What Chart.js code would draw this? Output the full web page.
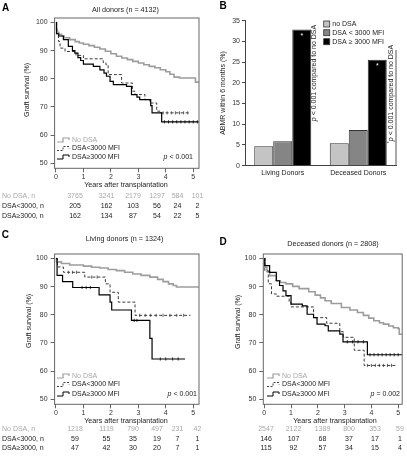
<!DOCTYPE html>
<html>
<head>
<meta charset="utf-8">
<script src="https://cdn.jsdelivr.net/npm/chart.js@4/dist/chart.umd.min.js"></script>
<style>
html, body { margin: 0; padding: 0; background: #fff; }
#wrap { position: relative; width: 407px; height: 456px; }
#wrap canvas { position: absolute; left: 0; top: 0; }
</style>
</head>
<body>
<div id="wrap">
  <canvas id="cA" width="407" height="456"></canvas>
  <canvas id="cB" width="407" height="456"></canvas>
  <canvas id="cC" width="407" height="456"></canvas>
  <canvas id="cD" width="407" height="456"></canvas>
</div>
<script>
// ---------- data ----------
const yearTicks = [0, 1, 2, 3, 4, 5];
const survTicks = [50, 60, 70, 80, 90, 100];
const seriesNames = ['No DSA', 'DSA<3000 MFI', 'DSA\u22653000 MFI'];
const riskNames = ['No DSA, n', 'DSA<3000, n', 'DSA\u22653000, n'];

// A - all donors (time in years, graft survival %)
const aNoDsaT = [0, 0.02, 0.05, 0.1, 0.2, 0.3, 0.5, 0.7, 0.85, 1.0, 1.2, 1.4, 1.6, 1.8, 2.0, 2.2, 2.4, 2.6, 2.8, 3.0, 3.2, 3.4, 3.6, 3.8, 4.0, 4.15, 4.3, 4.5, 5.08, 5.2];
const aNoDsaS = [100, 97.5, 96.5, 95.8, 95.2, 94.6, 93.9, 93.2, 92.7, 92.3, 91.8, 91.2, 90.6, 89.8, 88.9, 88.0, 87.4, 86.8, 86.2, 85.6, 85.0, 84.4, 83.9, 83.2, 82.5, 81.6, 80.6, 80.3, 78.8, 78.8];
const aLowT = [0, 0.02, 0.09, 0.15, 0.33, 0.73, 1.0, 1.72, 1.82, 1.9, 2.39, 2.79, 2.88, 3.24, 3.42, 3.67, 3.79, 4.88];
const aLowS = [100, 96, 93.3, 90.9, 89.7, 88.3, 87.1, 85.8, 85.0, 81.5, 78.5, 75.6, 74.4, 72.6, 71.4, 68.5, 67.9, 67.9];
const aHighT = [0, 0.02, 0.1, 0.27, 0.45, 0.6, 0.69, 0.8, 0.9, 1.0, 1.36, 1.6, 1.75, 1.84, 1.97, 2.09, 2.57, 2.75, 2.95, 3.05, 3.45, 3.5, 3.85, 5.2];
const aHighS = [100, 96, 95.2, 93.9, 91.5, 90.0, 89.1, 87.5, 86.5, 85.2, 84.4, 83.2, 82.0, 80.9, 79.1, 77.9, 77.3, 74.4, 73.5, 72.6, 70.5, 67.9, 64.7, 64.7];
// censoring marks
const aLowCensT = [3.9, 4.05, 4.2, 4.35, 4.5, 4.65, 4.8];
const aLowCensS = [67.9, 67.9, 67.9, 67.9, 67.9, 67.9, 67.9];
const aHighCensT = [3.95, 4.1, 4.25, 4.4, 4.55, 4.7, 4.85, 5.0, 5.15];
const aHighCensS = [64.7, 64.7, 64.7, 64.7, 64.7, 64.7, 64.7, 64.7, 64.7];
const aRiskNoDsa = [3765, 3241, 2179, 1297, 584, 101];
const aRiskLow = [205, 162, 103, 56, 24, 2];
const aRiskHigh = [162, 134, 87, 54, 22, 5];

// C - living donors
const cNoDsaT = [0, 0.02, 0.2, 0.5, 1.0, 1.3, 1.6, 1.9, 2.2, 2.5, 2.8, 3.1, 3.42, 3.7, 3.9, 4.1, 4.27, 4.39, 5.2];
const cNoDsaS = [100, 98.8, 98.2, 97.7, 97.3, 96.9, 96.6, 96.1, 95.7, 95.1, 94.5, 94.0, 93.4, 92.6, 91.8, 91.0, 90.4, 89.9, 89.9];
const cLowT = [0, 0.05, 0.27, 1.05, 1.8, 1.97, 2.27, 2.88, 4.9];
const cLowS = [100, 97, 95.1, 93.4, 91.0, 88.0, 84.5, 79.8, 79.8];
const cHighT = [0, 0.04, 0.24, 0.61, 1.57, 1.97, 2.03, 2.75, 3.42, 3.5, 4.7];
const cHighS = [100, 94.0, 91.8, 89.7, 87.1, 84.5, 81.7, 78.0, 71.6, 64.3, 64.3];
const cLowCensT = [0.45, 0.6, 0.75, 1.3, 1.5, 3.05, 3.25, 3.45, 3.65, 3.9, 4.15, 4.4, 4.65];
const cLowCensS = [95.1, 95.1, 95.1, 93.4, 93.4, 79.8, 79.8, 79.8, 79.8, 79.8, 79.8, 79.8, 79.8];
const cHighCensT = [0.95, 1.1, 1.25, 2.85, 2.95, 3.8, 4.0, 4.25, 4.45];
const cHighCensS = [89.7, 89.7, 89.7, 78.0, 78.0, 64.3, 64.3, 64.3, 64.3];
const cRiskNoDsa = [1218, 1119, 790, 497, 231, 42];
const cRiskLow = [59, 55, 35, 19, 7, 1];
const cRiskHigh = [47, 42, 30, 20, 7, 1];

// D - deceased donors
const dNoDsaT = [0, 0.02, 0.1, 0.2, 0.45, 0.6, 0.81, 1.06, 1.3, 1.66, 1.9, 2.1, 2.27, 2.5, 2.88, 3.2, 3.48, 3.7, 3.9, 4.09, 4.3, 4.45, 4.65, 4.82, 5.0, 5.04, 5.15];
const dNoDsaS = [100, 96.9, 95.3, 93.9, 92.1, 91.5, 91.0, 90.1, 89.3, 88.2, 87.0, 86.0, 85.0, 84.0, 82.6, 81.7, 80.8, 79.8, 78.8, 77.9, 77.2, 76.7, 76.0, 75.4, 75.1, 73.1, 73.1];
const dLowT = [0, 0.02, 0.15, 0.27, 0.45, 0.93, 1.0, 1.84, 2.33, 2.82, 2.95, 3.36, 3.73, 4.9];
const dLowS = [100, 95.7, 91.0, 87.4, 86.6, 84.4, 82.8, 79.0, 77.0, 74.0, 72.0, 67.4, 62.0, 62.0];
const dHighT = [0, 0.02, 0.2, 0.45, 0.57, 0.7, 0.81, 1.0, 1.42, 1.6, 1.84, 1.97, 2.27, 2.39, 2.82, 2.94, 3.85, 5.15];
const dHighS = [100, 97.5, 95.1, 92.1, 90.4, 88.5, 86.8, 83.8, 83.2, 80.2, 79.0, 76.7, 76.1, 74.3, 73.1, 70.4, 65.8, 65.8];
const dLowCensT = [3.85, 4.0, 4.15, 4.3, 4.45, 4.6, 4.75];
const dLowCensS = [62.0, 62.0, 62.0, 62.0, 62.0, 62.0, 62.0];
const dHighCensT = [3.1, 3.3, 3.5, 3.7, 3.95, 4.1, 4.25, 4.4, 4.55, 4.7, 4.85, 5.0];
const dHighCensS = [70.4, 70.4, 70.4, 70.4, 65.8, 65.8, 65.8, 65.8, 65.8, 65.8, 65.8, 65.8];
const dRiskNoDsa = [2547, 2122, 1389, 800, 353, 59];
const dRiskLow = [146, 107, 68, 37, 17, 1];
const dRiskHigh = [115, 92, 57, 34, 15, 4];

// B - ABMR within 6 months (%)
const bCategories = ['Living Donors', 'Deceased Donors'];
const bNoDsa = [4.7, 5.4];
const bLow = [5.9, 8.6];
const bHigh = [32.9, 25.6];
const bTicks = [0, 5, 10, 15, 20, 25, 30, 35];
const bLegend = ['no DSA', 'DSA < 3000 MFI', 'DSA \u2265 3000 MFI'];

// ---------- helpers ----------
const FONT = '"Liberation Sans", Arial, Helvetica, sans-serif';
const tickFont = { family: FONT, size: 7 };

function txt(ctx, s, x, y, o) {
  o = o || {};
  ctx.save();
  ctx.font = (o.style || '') + ' ' + (o.weight || '') + ' ' + (o.size || 7) + 'px ' + FONT;
  ctx.fillStyle = o.color || '#222';
  ctx.textAlign = o.align || 'left';
  ctx.textBaseline = 'middle';
  ctx.translate(x, y);
  if (o.rot) ctx.rotate(o.rot);
  ctx.fillText(s, 0, 0);
  ctx.restore();
}

// "p < 0.001" with italic p, right aligned at x
function pText(ctx, rest, x, y) {
  ctx.save();
  ctx.font = '7px ' + FONT;
  const w = ctx.measureText(rest).width;
  ctx.restore();
  txt(ctx, rest, x, y, { align: 'right' });
  txt(ctx, 'p', x - w, y, { align: 'right', style: 'italic' });
}

function glyph(ctx, x, y, color, dash, w) {
  ctx.save();
  ctx.strokeStyle = color;
  ctx.lineWidth = w;
  ctx.setLineDash(dash);
  ctx.beginPath();
  ctx.moveTo(x, y + 2);
  ctx.lineTo(x + 6, y + 2);
  ctx.lineTo(x + 6, y - 2);
  ctx.lineTo(x + 12, y - 2);
  ctx.lineTo(x + 12, y);
  ctx.stroke();
  ctx.restore();
}

const styles = [
  { color: '#9d9d9d', width: 1.6, dash: [], order: 3 },
  { color: '#3c3c3c', width: 1, dash: [3, 2], order: 2 },
  { color: '#000', width: 1.2, dash: [], order: 1 }
];
const textColors = ['#a8a8a8', '#222', '#222'];

function kmChart(id, p) {
  const box = p.box;
  const datasets = p.series.map((sr, i) => ({
    label: seriesNames[i],
    data: sr[0].map((t, j) => ({ x: t, y: sr[1][j] })),
    stepped: true,
    borderColor: styles[i].color,
    borderWidth: styles[i].width,
    borderDash: styles[i].dash,
    order: styles[i].order,
    pointRadius: 0,
    fill: false
  }));
  p.cens.forEach((c, i) => {
    if (!c) return;
    datasets.push({
      label: seriesNames[i] + ' censored',
      data: c[0].map((t, j) => ({ x: t, y: c[1][j] })),
      showLine: false,
      pointStyle: 'line',
      rotation: 90,
      pointRadius: 1.6,
      pointBorderWidth: 0.8,
      pointBorderColor: styles[i].color,
      borderColor: styles[i].color,
      order: 0
    });
  });
  return new Chart(document.getElementById(id), {
    type: 'line',
    data: { datasets: datasets },
    options: {
      responsive: false,
      animation: false,
      layout: { padding: { left: box.l - 30, top: box.t, right: 407 - box.r, bottom: 456 - box.b - 14 } },
      plugins: { legend: { display: false }, tooltip: { enabled: false } },
      scales: {
        x: {
          type: 'linear', min: p.xmin, max: p.xmax,
          afterBuildTicks: s => { s.ticks = yearTicks.map(v => ({ value: v })); },
          afterFit: s => { s.height = 14; },
          ticks: { font: tickFont, color: '#333', padding: 1, maxRotation: 0, autoSkip: false },
          grid: { drawOnChartArea: false, tickLength: 4, color: '#666' },
          border: { display: false }
        },
        y: {
          min: 48.2, max: 101.6,
          afterBuildTicks: s => { s.ticks = survTicks.map(v => ({ value: v })); },
          afterFit: s => { s.width = 30; },
          ticks: { font: tickFont, color: '#333', padding: 3 },
          grid: { drawOnChartArea: false, tickLength: 4, color: '#666' },
          border: { display: false }
        }
      }
    },
    plugins: [{
      id: 'deco',
      afterDraw(chart) {
        const ctx = chart.ctx;
        const ca = chart.chartArea;
        ctx.save();
        ctx.strokeStyle = '#666';
        ctx.lineWidth = 1;
        ctx.strokeRect(ca.left, ca.top, ca.right - ca.left, ca.bottom - ca.top);
        ctx.restore();
        txt(ctx, p.letter, p.letterPos[0], p.letterPos[1], { weight: 'bold', size: 10, align: 'center', color: '#000' });
        txt(ctx, p.title, p.titlePos[0], p.titlePos[1], { align: 'center', size: 7.2 });
        txt(ctx, 'Graft survival (%)', p.yTitle[0], p.yTitle[1], { align: 'center', rot: -Math.PI / 2 });
        txt(ctx, 'Years after transplantation', p.xTitle[0], p.xTitle[1], { align: 'center', size: 7.2 });
        for (let i = 0; i < 3; i++) {
          glyph(ctx, p.legX, p.legY[i], styles[i].color, styles[i].dash.length ? [2, 1.5] : [], i === 0 ? 1.2 : 1);
          txt(ctx, seriesNames[i], p.legX + 15, p.legY[i], { color: textColors[i] });
        }
        pText(ctx, p.pRest, p.pPos[0], p.pPos[1]);
        for (let i = 0; i < 3; i++) {
          if (p.riskLabels) txt(ctx, riskNames[i], 2, p.riskY[i], { color: textColors[i] });
          p.risk[i].forEach((n, k) => {
            txt(ctx, String(n), p.riskX[k], p.riskY[i], { align: 'center', color: textColors[i] });
          });
        }
      }
    }]
  });
}

const colsLeft = [75, 106.5, 133, 157, 177.5, 197.5];
const colsRight = [266, 293.5, 322.5, 349, 375, 400];

kmChart('cA', {
  box: { l: 54.6, r: 199, t: 18, b: 168.3 }, xmin: -0.05, xmax: 5.21,
  series: [[aNoDsaT, aNoDsaS], [aLowT, aLowS], [aHighT, aHighS]],
  cens: [null, [aLowCensT, aLowCensS], [aHighCensT, aHighCensS]],
  letter: 'A', letterPos: [5.5, 8.5], title: 'All donors (n = 4132)', titlePos: [125.5, 10.5],
  yTitle: [27, 90], xTitle: [126, 185.5],
  legX: 57, legY: [140, 148.5, 157], pRest: ' < 0.001', pPos: [193, 157],
  risk: [aRiskNoDsa, aRiskLow, aRiskHigh], riskX: colsLeft, riskY: [196.5, 206.5, 216.5], riskLabels: true
});

kmChart('cC', {
  box: { l: 54.6, r: 199, t: 254, b: 404.3 }, xmin: -0.05, xmax: 5.21,
  series: [[cNoDsaT, cNoDsaS], [cLowT, cLowS], [cHighT, cHighS]],
  cens: [null, [cLowCensT, cLowCensS], [cHighCensT, cHighCensS]],
  letter: 'C', letterPos: [5.3, 235], title: 'Living donors (n = 1324)', titlePos: [124.5, 239.3],
  yTitle: [29, 321], xTitle: [126, 421],
  legX: 57, legY: [376, 384.5, 394], pRest: ' < 0.001', pPos: [197, 394],
  risk: [cRiskNoDsa, cRiskLow, cRiskHigh], riskX: colsLeft, riskY: [429, 438.7, 448.3], riskLabels: true
});

kmChart('cD', {
  box: { l: 263.3, r: 405.7, t: 254, b: 404.3 }, xmin: -0.036, xmax: 5.15,
  series: [[dNoDsaT, dNoDsaS], [dLowT, dLowS], [dHighT, dHighS]],
  cens: [null, [dLowCensT, dLowCensS], [dHighCensT, dHighCensS]],
  letter: 'D', letterPos: [223, 242], title: 'Deceased donors (n = 2808)', titlePos: [333, 244.3],
  yTitle: [238, 322], xTitle: [335, 421],
  legX: 267, legY: [376, 384.5, 394], pRest: ' = 0.002', pPos: [400, 394],
  risk: [dRiskNoDsa, dRiskLow, dRiskHigh], riskX: colsRight, riskY: [429, 438.7, 448.3], riskLabels: false
});

// ---------- B: bar chart ----------
const barColors = ['#c4c4c4', '#858585', '#000'];
new Chart(document.getElementById('cB'), {
  type: 'bar',
  data: {
    labels: bCategories,
    datasets: [bNoDsa, bLow, bHigh].map((d, i) => ({
      label: bLegend[i], data: d, backgroundColor: barColors[i],
      borderColor: '#333', borderWidth: 1,
      categoryPercentage: 0.755, barPercentage: 1
    }))
  },
  options: {
    responsive: false,
    animation: false,
    layout: { padding: { left: 245 - 30, top: 20.7, right: 407 - 396, bottom: 456 - 165.7 - 14 } },
    plugins: { legend: { display: false }, tooltip: { enabled: false } },
    scales: {
      x: {
        afterFit: s => { s.height = 14; },
        ticks: { font: tickFont, color: '#222', padding: 3 },
        grid: { display: false, drawTicks: false },
        border: { display: true, color: '#444' }
      },
      y: {
        min: 0, max: 35,
        afterBuildTicks: s => { s.ticks = bTicks.map(v => ({ value: v })); },
        afterFit: s => { s.width = 30; },
        ticks: { font: tickFont, color: '#333', padding: 2 },
        grid: { drawOnChartArea: false, tickLength: 3, color: '#444' },
        border: { display: true, color: '#444' }
      }
    }
  },
  plugins: [{
    id: 'decoB',
    afterDraw(chart) {
      const ctx = chart.ctx;
      txt(ctx, 'B', 223, 6.5, { weight: 'bold', size: 10, align: 'center', color: '#000' });
      txt(ctx, 'ABMR within 6 months (%)', 223, 93, { align: 'center', rot: -Math.PI / 2 });
      // legend
      const ly = [24, 32.7, 41.7];
      for (let i = 0; i < 3; i++) {
        ctx.save();
        ctx.fillStyle = barColors[i];
        ctx.strokeStyle = '#333';
        ctx.lineWidth = 0.8;
        ctx.fillRect(323.7, ly[i] - 3, 6, 6);
        ctx.strokeRect(323.7, ly[i] - 3, 6, 6);
        ctx.restore();
        txt(ctx, bLegend[i], 332.3, ly[i], {});
      }
      // white asterisks on the high-DSA bars
      const meta = chart.getDatasetMeta(2);
      meta.data.forEach(bar => {
        txt(ctx, '*', bar.x, bar.y + 6.5, { align: 'center', color: '#fff', size: 7 });
      });
      // rotated significance notes
      const notes = [[314, 74], [391.5, 94]];
      notes.forEach(n => {
        ctx.save();
        ctx.translate(n[0], n[1]);
        ctx.rotate(-Math.PI / 2);
        ctx.font = '7px ' + FONT;
        const rest = ' < 0.001 compared to no DSA';
        const wRest = ctx.measureText(rest).width;
        ctx.font = 'italic 7px ' + FONT;
        const wP = ctx.measureText('p').width;
        ctx.font = '5px ' + FONT;
        const wS = ctx.measureText('*').width;
        let x0 = -(wRest + wP + wS) / 2;
        ctx.fillStyle = '#222';
        ctx.textBaseline = 'middle';
        ctx.textAlign = 'left';
        ctx.fillText('*', x0, -2);
        x0 += wS;
        ctx.font = 'italic 7px ' + FONT;
        ctx.fillText('p', x0, 0);
        x0 += wP;
        ctx.font = '7px ' + FONT;
        ctx.fillText(rest, x0, 0);
        ctx.restore();
      });
      // right edge line
      const ca = chart.chartArea;
      ctx.save();
      ctx.strokeStyle = '#555';
      ctx.lineWidth = 1;
      ctx.beginPath();
      ctx.moveTo(ca.right, 50);
      ctx.lineTo(ca.right, ca.bottom);
      ctx.stroke();
      ctx.restore();
    }
  }]
});
</script>
</body>
</html>
